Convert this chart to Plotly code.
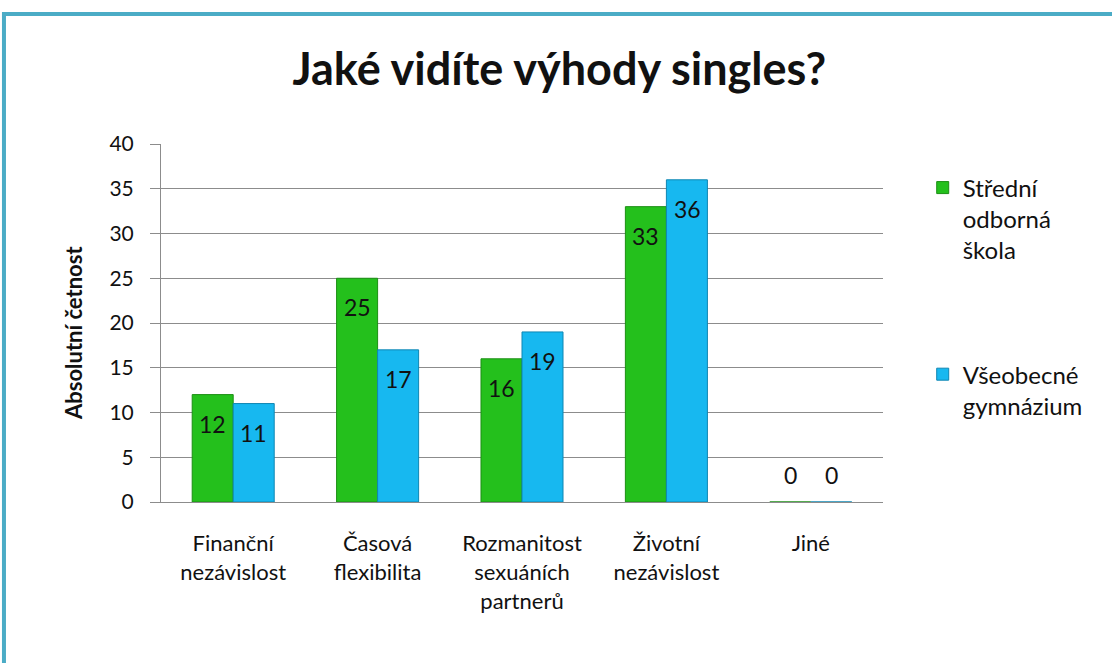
import plotly.graph_objects as go

categories = ["Finanční<br>nezávislost", "Časová<br>flexibilita", "Rozmanitost<br>sexuáních<br>partnerů", "Životní<br>nezávislost", "Jiné"]
series_names = ["Střední<br>odborná<br>škola", "Všeobecné<br>gymnázium"]
sos_values = [12, 25, 16, 33, 0]
gym_values = [11, 17, 19, 36, 0]
y_ticks = [0, 5, 10, 15, 20, 25, 30, 35, 40]

FONT = "Lato, Open Sans, sans-serif"

fig = go.Figure()
fig.add_trace(go.Bar(
    x=categories, y=sos_values, name=series_names[0],
    marker=dict(color="#24C01C", line=dict(color="#1C8F14", width=1)),
    legendgroup="a",
))
fig.add_trace(go.Bar(
    x=categories, y=gym_values, name=series_names[1],
    marker=dict(color="#17B8F0", line=dict(color="#0F86B3", width=1)),
    legendgroup="b",
))

# data labels, placed through the axis scales
BAR_HALF = 20.6
for vals, xs in ((sos_values, -BAR_HALF), (gym_values, BAR_HALF)):
    for cat, v in zip(categories, vals):
        fig.add_annotation(x=cat, y=v, xref="x", yref="y", text=str(v), showarrow=False,
                           xshift=xs, yshift=(-29 if v > 0 else 27),
                           font=dict(size=23, color="#111111", family=FONT))

fig.update_layout(
    width=1112, height=663,
    margin=dict(l=161, r=229, t=144, b=161),
    paper_bgcolor="white", plot_bgcolor="white",
    barmode="group", bargap=0.432, bargroupgap=0.0,
    font=dict(family=FONT, color="#111111", size=21),
    title=dict(text="<b>Jaké vidíte výhody singles?</b>", x=0.503, xanchor="center",
               y=0.895, yanchor="middle", font=dict(size=45, family=FONT, color="#111111")),
    legend=dict(x=1.055, y=0.94, xanchor="left", yanchor="top", valign="top",
                font=dict(size=24, family=FONT), tracegroupgap=90,
                itemwidth=30, bgcolor="rgba(0,0,0,0)"),
    showlegend=True,
)
fig.update_yaxes(
    range=[0, 40], tickvals=y_ticks, showgrid=True, gridcolor="#8c8c8c", gridwidth=1,
    showline=True, linecolor="#8c8c8c", ticks="outside", ticklen=10, tickcolor="#8c8c8c",
    tickfont=dict(size=21, family=FONT), zeroline=False, ticklabelstandoff=12,
)
fig.update_xaxes(
    showline=True, linecolor="#8c8c8c", ticks="outside", ticklen=22,
    tickcolor="rgba(0,0,0,0)", tickfont=dict(size=22, family=FONT),
    showgrid=False,
)
fig.add_annotation(text="<b>Absolutní četnost</b>", xref="paper", yref="paper",
                   x=-0.1219, y=0.472, xanchor="center", yanchor="middle",
                   textangle=-90, showarrow=False,
                   font=dict(size=22, family=FONT, color="#111111"))
# outer teal frame
fig.add_shape(type="rect", xref="paper", yref="paper",
              x0=-0.2175, x1=1.33, y0=-0.47, y1=1.363,
              line=dict(color="#4BACC6", width=4), fillcolor="rgba(0,0,0,0)", layer="below")

fig.write_html("out.html", config={"displayModeBar": False},
               post_script="document.body.style.margin='0';")
